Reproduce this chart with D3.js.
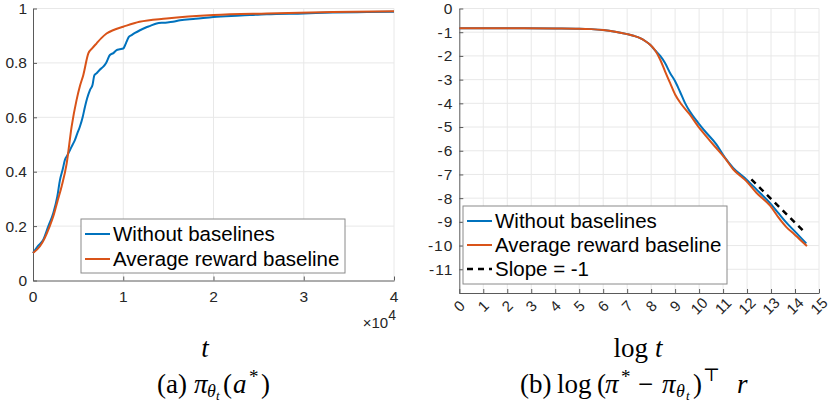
<!DOCTYPE html>
<html><head><meta charset="utf-8">
<script src="https://cdn.jsdelivr.net/npm/d3@7"></script>
<style>body{margin:0;background:#fff}svg{display:block}</style>
</head><body>
<svg id="c" width="831" height="404"></svg>
<script>
// ---------- Data ----------
// Panel (a): pi_theta_t(a*) vs t (x in units of 1e4)
const aTicksX = [0, 1, 2, 3, 4];
const aTicksY = [0, 0.2, 0.4, 0.6, 0.8, 1];
const aBlueT = [0,0.05,0.114,0.17,0.225,0.27,0.299,0.33,0.354,0.38,0.41,0.44,0.465,0.49,0.52,0.55,0.576,0.6,0.631,0.66,0.68,0.705,0.74,0.779,0.81,0.852,0.89,0.926,0.96,1.0,1.02,1.037,1.06,1.092,1.13,1.185,1.25,1.3,1.37,1.45,1.55,1.63,1.8,2.0,2.3,2.59,3.0,3.32,3.7,4.0];
const aBlueV = [0.101,0.125,0.15,0.2,0.248,0.31,0.37,0.41,0.444,0.46,0.48,0.5,0.517,0.54,0.566,0.6,0.639,0.67,0.7,0.72,0.755,0.762,0.775,0.786,0.8,0.829,0.836,0.847,0.85,0.853,0.865,0.878,0.895,0.902,0.91,0.92,0.93,0.936,0.945,0.948,0.951,0.957,0.962,0.969,0.974,0.979,0.982,0.985,0.987,0.988];
const aOrangeT = [0,0.077,0.13,0.18,0.225,0.27,0.317,0.373,0.428,0.483,0.52,0.557,0.613,0.66,0.705,0.76,0.815,0.9,1.0,1.18,1.48,2.0,2.59,3.32,4.0];
const aOrangeV = [0.101,0.126,0.156,0.195,0.236,0.29,0.346,0.43,0.566,0.664,0.715,0.755,0.835,0.855,0.872,0.892,0.908,0.922,0.933,0.951,0.963,0.976,0.982,0.987,0.99];
const aLegend = ["Without baselines", "Average reward baseline"];

// Panel (b): log(pi* - pi_theta_t)^T r vs log t
const bTicksX = [0,1,2,3,4,5,6,7,8,9,10,11,12,13,14,15];
const bTicksY = [0,-1,-2,-3,-4,-5,-6,-7,-8,-9,-10,-11];
const bBlueX = [0,2,4,5,5.5,6,6.5,7,7.3,7.54,7.75,7.96,8.17,8.38,8.58,8.79,9.0,9.2,9.41,9.61,9.96,10.3,10.72,11.07,11.42,11.97,12.39,12.97,13.3,13.64,13.97,14.2,14.47];
const bBlueV = [-0.83,-0.83,-0.84,-0.85,-0.87,-0.91,-0.98,-1.08,-1.16,-1.25,-1.37,-1.53,-1.77,-2.0,-2.3,-2.72,-3.07,-3.5,-3.98,-4.34,-4.82,-5.24,-5.73,-6.28,-6.72,-7.21,-7.63,-8.22,-8.62,-9.03,-9.38,-9.62,-9.91];
const bOrangeX = [0,2,4,5,5.5,6,6.5,7,7.3,7.54,7.75,7.96,8.17,8.38,8.58,8.79,9.0,9.27,9.61,9.96,10.3,10.65,11.07,11.42,11.97,12.39,12.97,13.3,13.64,13.97,14.2,14.5];
const bOrangeV = [-0.83,-0.83,-0.84,-0.85,-0.87,-0.91,-0.98,-1.08,-1.16,-1.25,-1.37,-1.53,-1.77,-2.16,-2.65,-3.14,-3.63,-4.05,-4.47,-4.97,-5.39,-5.81,-6.3,-6.78,-7.28,-7.77,-8.33,-8.8,-9.22,-9.52,-9.74,-10.02];
const bSlopeX = [12.18, 14.33];
const bSlopeV = [-7.21, -9.36];
const bLegend = ["Without baselines", "Average reward baseline", "Slope = -1"];

const BLUE = "#0072BD", ORANGE = "#D95319";
const sans = "'Liberation Sans', Arial, sans-serif";
const serif = "'Liberation Serif', 'DejaVu Serif', serif";

const svg = d3.select("#c");

function panel(opt) {
  const g = svg.append("g");
  const x = d3.scaleLinear().domain(opt.xd).range(opt.xr);
  const y = d3.scaleLinear().domain(opt.yd).range(opt.yr);
  g.append("g").selectAll("line").data(opt.gx).join("line")
    .attr("x1", d => x(d)).attr("x2", d => x(d)).attr("y1", opt.yr[0]).attr("y2", opt.yr[1])
    .attr("stroke", "#e8e8e8").attr("stroke-width", 1);
  g.append("g").selectAll("line").data(opt.gy).join("line")
    .attr("y1", d => y(d)).attr("y2", d => y(d)).attr("x1", opt.xr[0]).attr("x2", opt.xr[1])
    .attr("stroke", "#e8e8e8").attr("stroke-width", 1);
  const ax = g.append("g").attr("transform", `translate(0,${opt.yr[0]})`)
    .call(d3.axisBottom(x).tickValues(opt.tx).tickSizeInner(-4).tickSizeOuter(0).tickFormat(""));
  const ay = g.append("g").attr("transform", `translate(${opt.xr[0]},0)`)
    .call(d3.axisLeft(y).tickValues(opt.ty).tickSizeInner(-4).tickSizeOuter(0).tickFormat(""));
  [ax, ay].forEach(a => { a.select(".domain").attr("stroke", "#5a5a5a").attr("stroke-width", 1);
    a.selectAll(".tick line").attr("stroke", "#5a5a5a"); });
  g.append("g").selectAll("text").data(opt.ty).join("text")
    .attr("x", opt.xr[0] - 6).attr("y", d => y(d)).attr("dy", "0.35em")
    .attr("text-anchor", "end").attr("font-family", sans).attr("font-size", 15.5)
    .attr("letter-spacing", opt.ls || 0).attr("fill", "#262626")
    .text(d => opt.fy(d));
  return {g, x, y};
}

function line(p, xs, vs, color, dash, w) {
  const pts = xs.map((d, i) => [d, vs[i]]);
  p.g.append("path").datum(pts)
    .attr("d", d3.line().x(d => p.x(d[0])).y(d => p.y(d[1])).curve(d3.curveMonotoneX))
    .attr("fill", "none").attr("stroke", color).attr("stroke-width", w || 2)
    .attr("stroke-dasharray", dash || null).attr("stroke-linejoin", "round");
}

function legend(p, box, items) {
  const lg = p.g.append("g");
  lg.append("rect").attr("x", box.x).attr("y", box.y).attr("width", box.w).attr("height", box.h)
    .attr("fill", "#fff").attr("stroke", "#8a8a8a").attr("stroke-width", 1);
  items.forEach((it, i) => {
    const cy = box.y + box.r0 + i * box.dy;
    lg.append("line").attr("x1", box.x + 4).attr("x2", box.x + 29).attr("y1", cy).attr("y2", cy)
      .attr("stroke", it.c).attr("stroke-width", it.w || 2).attr("stroke-dasharray", it.dash || null);
    lg.append("text").attr("x", box.x + 32).attr("y", cy).attr("dy", "0.35em")
      .attr("font-family", sans).attr("font-size", 20.5).attr("fill", "#000").text(it.t);
  });
}

// ---------- Panel (a) ----------
const pa = panel({xd: [0, 4], xr: [33, 394], yd: [0, 1], yr: [280.5, 8.5],
  gx: aTicksX.slice(1), gy: aTicksY.slice(1), tx: aTicksX, ty: aTicksY,
  fy: d => d3.format("~g")(d)});
pa.g.append("g").selectAll("text").data(aTicksX).join("text")
  .attr("x", d => pa.x(d)).attr("y", 297).attr("dy", "0.35em").attr("text-anchor", "middle")
  .attr("font-family", sans).attr("font-size", 15.5).attr("fill", "#262626").text(d => d);
const mult = pa.g.append("text").attr("x", 396).attr("y", 328).attr("text-anchor", "end")
  .attr("font-family", sans).attr("font-size", 15).attr("fill", "#262626");
mult.append("tspan").text("×10");
mult.append("tspan").attr("dy", -8).attr("font-size", 14).text("4");
line(pa, aBlueT, aBlueV, BLUE);
line(pa, aOrangeT, aOrangeV, ORANGE);
legend(pa, {x: 81, y: 219, w: 264, h: 54, r0: 15, dy: 25},
  [{c: BLUE, t: aLegend[0]}, {c: ORANGE, t: aLegend[1]}]);

// ---------- Panel (b) ----------
const pb = panel({xd: [0, 15], xr: [459.3, 819], yd: [-12, 0], yr: [293, 8.5],
  gx: bTicksX.slice(1), gy: bTicksY, tx: bTicksX, ty: bTicksY.concat([-12]), ls: 1,
  fy: d => d === -12 ? "" : String(d)});
pb.g.append("g").selectAll("text").data(bTicksX).join("text")
  .attr("transform", d => `translate(${pb.x(d)},306) rotate(-45)`)
  .attr("dy", "0.35em").attr("text-anchor", "middle")
  .attr("font-family", sans).attr("font-size", 15).attr("fill", "#262626").text(d => d);
line(pb, bBlueX, bBlueV, BLUE);
line(pb, bOrangeX, bOrangeV, ORANGE);
line(pb, bSlopeX, bSlopeV, "#000", "6,5", 2.5);
legend(pb, {x: 463, y: 206, w: 264, h: 78, r0: 15, dy: 24},
  [{c: BLUE, t: bLegend[0]}, {c: ORANGE, t: bLegend[1]}, {c: "#000", t: bLegend[2], dash: "6,5", w: 2.5}]);

// ---------- Axis titles & captions ----------
svg.append("text").attr("x", 205).attr("y", 357).attr("text-anchor", "middle")
  .attr("font-family", serif).attr("font-style", "italic").attr("font-size", 27).text("t");
const lt = svg.append("text").attr("x", 638).attr("y", 357).attr("text-anchor", "middle")
  .attr("font-family", serif).attr("font-size", 27);
lt.append("tspan").text("log ");
lt.append("tspan").attr("font-style", "italic").text("t");

// Captions built from positioned pieces: [x, text, italic, size, dy]
function caption(base, pieces) {
  const g = svg.append("g");
  pieces.forEach(p => g.append("text").attr("x", p[0]).attr("y", base + (p[4] || 0))
    .attr("font-family", serif).attr("font-style", p[2] ? "italic" : "normal")
    .attr("font-size", p[3]).attr("fill", "#000").text(p[1]));
}
caption(393, [
  [157, "(a)", 0, 27], [194, "π", 1, 27], [207, "θ", 1, 18, 4], [216, "t", 1, 13, 7],
  [223, "(", 0, 27], [233, "a", 1, 27], [249, "*", 0, 19, -10], [261, ")", 0, 27]
]);
caption(393, [
  [520, "(b)", 0, 27], [557, "log", 0, 27], [597, "(", 0, 27], [605, "π", 1, 27],
  [621, "*", 0, 19, -10], [638, "−", 0, 27], [662, "π", 1, 27], [676, "θ", 1, 18, 4],
  [686, "t", 1, 13, 7], [693, ")", 0, 27], [703, "⊤", 0, 18, -12], [737, "r", 1, 27]
]);
</script>
</body></html>
